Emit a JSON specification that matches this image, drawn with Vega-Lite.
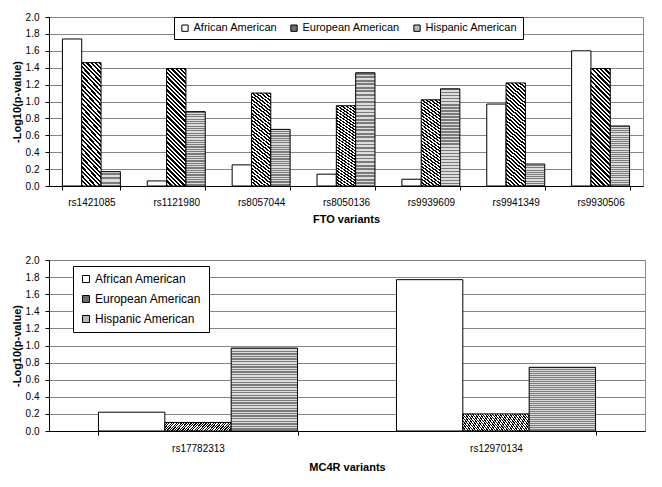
{
  "$schema": "https://vega.github.io/schema/vega-lite/v6.json",
  "background": "white",
  "padding": {"left": 10, "top": 11, "right": 10, "bottom": 5},
  "spacing": 29,
  "config": {
    "font": "Liberation Sans",
    "view": {"stroke": "#888888", "strokeWidth": 1},
    "axis": {
      "labelFont": "Liberation Sans", "labelFontSize": 10, "labelColor": "#000000",
      "titleFont": "Liberation Sans", "titleFontSize": 11, "titleFontWeight": "bold", "titleColor": "#000000",
      "domainColor": "#000000", "tickColor": "#000000", "gridColor": "#858585", "tickSize": 4
    },
    "legend": {"labelFont": "Liberation Sans", "labelColor": "#000000"}
  },
  "datasets": {
    "fto": [
      {"variant": "rs1421085", "group": "African American", "value": 1.74},
      {"variant": "rs1421085", "group": "European American", "value": 1.46},
      {"variant": "rs1421085", "group": "Hispanic American", "value": 0.17},
      {"variant": "rs1121980", "group": "African American", "value": 0.06},
      {"variant": "rs1121980", "group": "European American", "value": 1.39},
      {"variant": "rs1121980", "group": "Hispanic American", "value": 0.88},
      {"variant": "rs8057044", "group": "African American", "value": 0.25},
      {"variant": "rs8057044", "group": "European American", "value": 1.10},
      {"variant": "rs8057044", "group": "Hispanic American", "value": 0.67},
      {"variant": "rs8050136", "group": "African American", "value": 0.14},
      {"variant": "rs8050136", "group": "European American", "value": 0.95},
      {"variant": "rs8050136", "group": "Hispanic American", "value": 1.34},
      {"variant": "rs9939609", "group": "African American", "value": 0.08},
      {"variant": "rs9939609", "group": "European American", "value": 1.02},
      {"variant": "rs9939609", "group": "Hispanic American", "value": 1.15},
      {"variant": "rs9941349", "group": "African American", "value": 0.97},
      {"variant": "rs9941349", "group": "European American", "value": 1.22},
      {"variant": "rs9941349", "group": "Hispanic American", "value": 0.26},
      {"variant": "rs9930506", "group": "African American", "value": 1.60},
      {"variant": "rs9930506", "group": "European American", "value": 1.39},
      {"variant": "rs9930506", "group": "Hispanic American", "value": 0.71}
    ],
    "mc4r": [
      {"variant": "rs17782313", "group": "African American", "value": 0.22},
      {"variant": "rs17782313", "group": "European American", "value": 0.10},
      {"variant": "rs17782313", "group": "Hispanic American", "value": 0.97},
      {"variant": "rs12970134", "group": "African American", "value": 1.77},
      {"variant": "rs12970134", "group": "European American", "value": 0.20},
      {"variant": "rs12970134", "group": "Hispanic American", "value": 0.745}
    ]
  },
  "resolve": {
    "scale": {"x": "independent", "xOffset": "independent", "fill": "independent", "y": "independent"},
    "legend": {"fill": "independent"},
    "axis": {"x": "independent", "y": "independent"}
  },
  "vconcat": [
    {
      "width": 594,
      "height": 169,
      "data": {"name": "fto"},
      "mark": {"type": "bar", "stroke": "#000000", "strokeWidth": 1},
      "encoding": {
        "x": {
          "field": "variant", "type": "nominal",
          "sort": ["rs1421085", "rs1121980", "rs8057044", "rs8050136", "rs9939609", "rs9941349", "rs9930506"],
          "scale": {"paddingInner": 0.317, "paddingOuter": 0.158},
          "axis": {"title": "FTO variants", "labelAngle": 0, "tickBand": "extent", "grid": false, "labelPadding": 7, "titlePadding": 6}
        },
        "xOffset": {
          "field": "group", "type": "nominal",
          "sort": ["African American", "European American", "Hispanic American"],
          "scale": {"paddingInner": 0, "paddingOuter": 0}
        },
        "y": {
          "field": "value", "type": "quantitative",
          "scale": {"domain": [0, 2], "nice": false},
          "axis": {"title": "-Log10(p-value)", "values": [0, 0.2, 0.4, 0.6, 0.8, 1.0, 1.2, 1.4, 1.6, 1.8, 2.0], "format": ".1f", "grid": true, "labelPadding": 6, "titlePadding": 3}
        },
        "fill": {
          "field": "group", "type": "nominal",
          "scale": {"domain": ["African American", "European American", "Hispanic American"], "range": ["#ffffff", "#6e6e6e", "#b8b8b8"]},
          "legend": {
            "title": null, "orient": "none", "legendX": 125, "legendY": 0, "direction": "horizontal",
            "strokeColor": "#000000", "fillColor": "#ffffff", "padding": 5.5, "labelFontSize": 11,
            "symbolType": "square", "symbolSize": 40, "symbolStrokeColor": "#000000", "symbolStrokeWidth": 1,
            "columnPadding": 11, "labelOffset": 3
          },
          "condition": [
            {"test": "datum.group === 'European American'", "value": {"gradient": "linear", "x1": 0, "y1": 1, "x2": 0.19, "y2": -0.15, "stops": [
              {"offset":0,"color":"#000"},{"offset":0.015625,"color":"#000"},{"offset":0.015625,"color":"#fff"},{"offset":0.03125,"color":"#fff"},
              {"offset":0.03125,"color":"#000"},{"offset":0.046875,"color":"#000"},{"offset":0.046875,"color":"#fff"},{"offset":0.0625,"color":"#fff"},
              {"offset":0.0625,"color":"#000"},{"offset":0.078125,"color":"#000"},{"offset":0.078125,"color":"#fff"},{"offset":0.09375,"color":"#fff"},
              {"offset":0.09375,"color":"#000"},{"offset":0.109375,"color":"#000"},{"offset":0.109375,"color":"#fff"},{"offset":0.125,"color":"#fff"},
              {"offset":0.125,"color":"#000"},{"offset":0.140625,"color":"#000"},{"offset":0.140625,"color":"#fff"},{"offset":0.15625,"color":"#fff"},
              {"offset":0.15625,"color":"#000"},{"offset":0.171875,"color":"#000"},{"offset":0.171875,"color":"#fff"},{"offset":0.1875,"color":"#fff"},
              {"offset":0.1875,"color":"#000"},{"offset":0.203125,"color":"#000"},{"offset":0.203125,"color":"#fff"},{"offset":0.21875,"color":"#fff"},
              {"offset":0.21875,"color":"#000"},{"offset":0.234375,"color":"#000"},{"offset":0.234375,"color":"#fff"},{"offset":0.25,"color":"#fff"},
              {"offset":0.25,"color":"#000"},{"offset":0.265625,"color":"#000"},{"offset":0.265625,"color":"#fff"},{"offset":0.28125,"color":"#fff"},
              {"offset":0.28125,"color":"#000"},{"offset":0.296875,"color":"#000"},{"offset":0.296875,"color":"#fff"},{"offset":0.3125,"color":"#fff"},
              {"offset":0.3125,"color":"#000"},{"offset":0.328125,"color":"#000"},{"offset":0.328125,"color":"#fff"},{"offset":0.34375,"color":"#fff"},
              {"offset":0.34375,"color":"#000"},{"offset":0.359375,"color":"#000"},{"offset":0.359375,"color":"#fff"},{"offset":0.375,"color":"#fff"},
              {"offset":0.375,"color":"#000"},{"offset":0.390625,"color":"#000"},{"offset":0.390625,"color":"#fff"},{"offset":0.40625,"color":"#fff"},
              {"offset":0.40625,"color":"#000"},{"offset":0.421875,"color":"#000"},{"offset":0.421875,"color":"#fff"},{"offset":0.4375,"color":"#fff"},
              {"offset":0.4375,"color":"#000"},{"offset":0.453125,"color":"#000"},{"offset":0.453125,"color":"#fff"},{"offset":0.46875,"color":"#fff"},
              {"offset":0.46875,"color":"#000"},{"offset":0.484375,"color":"#000"},{"offset":0.484375,"color":"#fff"},{"offset":0.5,"color":"#fff"},
              {"offset":0.5,"color":"#000"},{"offset":0.515625,"color":"#000"},{"offset":0.515625,"color":"#fff"},{"offset":0.53125,"color":"#fff"},
              {"offset":0.53125,"color":"#000"},{"offset":0.546875,"color":"#000"},{"offset":0.546875,"color":"#fff"},{"offset":0.5625,"color":"#fff"},
              {"offset":0.5625,"color":"#000"},{"offset":0.578125,"color":"#000"},{"offset":0.578125,"color":"#fff"},{"offset":0.59375,"color":"#fff"},
              {"offset":0.59375,"color":"#000"},{"offset":0.609375,"color":"#000"},{"offset":0.609375,"color":"#fff"},{"offset":0.625,"color":"#fff"},
              {"offset":0.625,"color":"#000"},{"offset":0.640625,"color":"#000"},{"offset":0.640625,"color":"#fff"},{"offset":0.65625,"color":"#fff"},
              {"offset":0.65625,"color":"#000"},{"offset":0.671875,"color":"#000"},{"offset":0.671875,"color":"#fff"},{"offset":0.6875,"color":"#fff"},
              {"offset":0.6875,"color":"#000"},{"offset":0.703125,"color":"#000"},{"offset":0.703125,"color":"#fff"},{"offset":0.71875,"color":"#fff"},
              {"offset":0.71875,"color":"#000"},{"offset":0.734375,"color":"#000"},{"offset":0.734375,"color":"#fff"},{"offset":0.75,"color":"#fff"},
              {"offset":0.75,"color":"#000"},{"offset":0.765625,"color":"#000"},{"offset":0.765625,"color":"#fff"},{"offset":0.78125,"color":"#fff"},
              {"offset":0.78125,"color":"#000"},{"offset":0.796875,"color":"#000"},{"offset":0.796875,"color":"#fff"},{"offset":0.8125,"color":"#fff"},
              {"offset":0.8125,"color":"#000"},{"offset":0.828125,"color":"#000"},{"offset":0.828125,"color":"#fff"},{"offset":0.84375,"color":"#fff"},
              {"offset":0.84375,"color":"#000"},{"offset":0.859375,"color":"#000"},{"offset":0.859375,"color":"#fff"},{"offset":0.875,"color":"#fff"},
              {"offset":0.875,"color":"#000"},{"offset":0.890625,"color":"#000"},{"offset":0.890625,"color":"#fff"},{"offset":0.90625,"color":"#fff"},
              {"offset":0.90625,"color":"#000"},{"offset":0.921875,"color":"#000"},{"offset":0.921875,"color":"#fff"},{"offset":0.9375,"color":"#fff"},
              {"offset":0.9375,"color":"#000"},{"offset":0.953125,"color":"#000"},{"offset":0.953125,"color":"#fff"},{"offset":0.96875,"color":"#fff"},
              {"offset":0.96875,"color":"#000"},{"offset":0.984375,"color":"#000"},{"offset":0.984375,"color":"#fff"},{"offset":1,"color":"#fff"}
            ]}},
            {"test": "datum.group === 'Hispanic American'", "value": {"gradient": "linear", "x1": 0, "y1": 0, "x2": 0, "y2": 1, "stops": [
              {"offset":0,"color":"#7a7a7a"},{"offset":0.015625,"color":"#7a7a7a"},{"offset":0.015625,"color":"#dcdcdc"},{"offset":0.03125,"color":"#dcdcdc"},
              {"offset":0.03125,"color":"#7a7a7a"},{"offset":0.046875,"color":"#7a7a7a"},{"offset":0.046875,"color":"#dcdcdc"},{"offset":0.0625,"color":"#dcdcdc"},
              {"offset":0.0625,"color":"#7a7a7a"},{"offset":0.078125,"color":"#7a7a7a"},{"offset":0.078125,"color":"#dcdcdc"},{"offset":0.09375,"color":"#dcdcdc"},
              {"offset":0.09375,"color":"#7a7a7a"},{"offset":0.109375,"color":"#7a7a7a"},{"offset":0.109375,"color":"#dcdcdc"},{"offset":0.125,"color":"#dcdcdc"},
              {"offset":0.125,"color":"#7a7a7a"},{"offset":0.140625,"color":"#7a7a7a"},{"offset":0.140625,"color":"#dcdcdc"},{"offset":0.15625,"color":"#dcdcdc"},
              {"offset":0.15625,"color":"#7a7a7a"},{"offset":0.171875,"color":"#7a7a7a"},{"offset":0.171875,"color":"#dcdcdc"},{"offset":0.1875,"color":"#dcdcdc"},
              {"offset":0.1875,"color":"#7a7a7a"},{"offset":0.203125,"color":"#7a7a7a"},{"offset":0.203125,"color":"#dcdcdc"},{"offset":0.21875,"color":"#dcdcdc"},
              {"offset":0.21875,"color":"#7a7a7a"},{"offset":0.234375,"color":"#7a7a7a"},{"offset":0.234375,"color":"#dcdcdc"},{"offset":0.25,"color":"#dcdcdc"},
              {"offset":0.25,"color":"#7a7a7a"},{"offset":0.265625,"color":"#7a7a7a"},{"offset":0.265625,"color":"#dcdcdc"},{"offset":0.28125,"color":"#dcdcdc"},
              {"offset":0.28125,"color":"#7a7a7a"},{"offset":0.296875,"color":"#7a7a7a"},{"offset":0.296875,"color":"#dcdcdc"},{"offset":0.3125,"color":"#dcdcdc"},
              {"offset":0.3125,"color":"#7a7a7a"},{"offset":0.328125,"color":"#7a7a7a"},{"offset":0.328125,"color":"#dcdcdc"},{"offset":0.34375,"color":"#dcdcdc"},
              {"offset":0.34375,"color":"#7a7a7a"},{"offset":0.359375,"color":"#7a7a7a"},{"offset":0.359375,"color":"#dcdcdc"},{"offset":0.375,"color":"#dcdcdc"},
              {"offset":0.375,"color":"#7a7a7a"},{"offset":0.390625,"color":"#7a7a7a"},{"offset":0.390625,"color":"#dcdcdc"},{"offset":0.40625,"color":"#dcdcdc"},
              {"offset":0.40625,"color":"#7a7a7a"},{"offset":0.421875,"color":"#7a7a7a"},{"offset":0.421875,"color":"#dcdcdc"},{"offset":0.4375,"color":"#dcdcdc"},
              {"offset":0.4375,"color":"#7a7a7a"},{"offset":0.453125,"color":"#7a7a7a"},{"offset":0.453125,"color":"#dcdcdc"},{"offset":0.46875,"color":"#dcdcdc"},
              {"offset":0.46875,"color":"#7a7a7a"},{"offset":0.484375,"color":"#7a7a7a"},{"offset":0.484375,"color":"#dcdcdc"},{"offset":0.5,"color":"#dcdcdc"},
              {"offset":0.5,"color":"#7a7a7a"},{"offset":0.515625,"color":"#7a7a7a"},{"offset":0.515625,"color":"#dcdcdc"},{"offset":0.53125,"color":"#dcdcdc"},
              {"offset":0.53125,"color":"#7a7a7a"},{"offset":0.546875,"color":"#7a7a7a"},{"offset":0.546875,"color":"#dcdcdc"},{"offset":0.5625,"color":"#dcdcdc"},
              {"offset":0.5625,"color":"#7a7a7a"},{"offset":0.578125,"color":"#7a7a7a"},{"offset":0.578125,"color":"#dcdcdc"},{"offset":0.59375,"color":"#dcdcdc"},
              {"offset":0.59375,"color":"#7a7a7a"},{"offset":0.609375,"color":"#7a7a7a"},{"offset":0.609375,"color":"#dcdcdc"},{"offset":0.625,"color":"#dcdcdc"},
              {"offset":0.625,"color":"#7a7a7a"},{"offset":0.640625,"color":"#7a7a7a"},{"offset":0.640625,"color":"#dcdcdc"},{"offset":0.65625,"color":"#dcdcdc"},
              {"offset":0.65625,"color":"#7a7a7a"},{"offset":0.671875,"color":"#7a7a7a"},{"offset":0.671875,"color":"#dcdcdc"},{"offset":0.6875,"color":"#dcdcdc"},
              {"offset":0.6875,"color":"#7a7a7a"},{"offset":0.703125,"color":"#7a7a7a"},{"offset":0.703125,"color":"#dcdcdc"},{"offset":0.71875,"color":"#dcdcdc"},
              {"offset":0.71875,"color":"#7a7a7a"},{"offset":0.734375,"color":"#7a7a7a"},{"offset":0.734375,"color":"#dcdcdc"},{"offset":0.75,"color":"#dcdcdc"},
              {"offset":0.75,"color":"#7a7a7a"},{"offset":0.765625,"color":"#7a7a7a"},{"offset":0.765625,"color":"#dcdcdc"},{"offset":0.78125,"color":"#dcdcdc"},
              {"offset":0.78125,"color":"#7a7a7a"},{"offset":0.796875,"color":"#7a7a7a"},{"offset":0.796875,"color":"#dcdcdc"},{"offset":0.8125,"color":"#dcdcdc"},
              {"offset":0.8125,"color":"#7a7a7a"},{"offset":0.828125,"color":"#7a7a7a"},{"offset":0.828125,"color":"#dcdcdc"},{"offset":0.84375,"color":"#dcdcdc"},
              {"offset":0.84375,"color":"#7a7a7a"},{"offset":0.859375,"color":"#7a7a7a"},{"offset":0.859375,"color":"#dcdcdc"},{"offset":0.875,"color":"#dcdcdc"},
              {"offset":0.875,"color":"#7a7a7a"},{"offset":0.890625,"color":"#7a7a7a"},{"offset":0.890625,"color":"#dcdcdc"},{"offset":0.90625,"color":"#dcdcdc"},
              {"offset":0.90625,"color":"#7a7a7a"},{"offset":0.921875,"color":"#7a7a7a"},{"offset":0.921875,"color":"#dcdcdc"},{"offset":0.9375,"color":"#dcdcdc"},
              {"offset":0.9375,"color":"#7a7a7a"},{"offset":0.953125,"color":"#7a7a7a"},{"offset":0.953125,"color":"#dcdcdc"},{"offset":0.96875,"color":"#dcdcdc"},
              {"offset":0.96875,"color":"#7a7a7a"},{"offset":0.984375,"color":"#7a7a7a"},{"offset":0.984375,"color":"#dcdcdc"},{"offset":1,"color":"#dcdcdc"}
            ]}}
          ]
        }
      }
    },
    {
      "width": 596,
      "height": 171,
      "data": {"name": "mc4r"},
      "mark": {"type": "bar", "stroke": "#000000", "strokeWidth": 1},
      "encoding": {
        "x": {
          "field": "variant", "type": "nominal",
          "sort": ["rs17782313", "rs12970134"],
          "scale": {"paddingInner": 0.332, "paddingOuter": 0.166},
          "axis": {"title": "MC4R variants", "labelAngle": 0, "tickBand": "extent", "grid": false, "labelPadding": 8, "titlePadding": 8}
        },
        "xOffset": {
          "field": "group", "type": "nominal",
          "sort": ["African American", "European American", "Hispanic American"],
          "scale": {"paddingInner": 0, "paddingOuter": 0}
        },
        "y": {
          "field": "value", "type": "quantitative",
          "scale": {"domain": [0, 2], "nice": false},
          "axis": {"title": "-Log10(p-value)", "values": [0, 0.2, 0.4, 0.6, 0.8, 1.0, 1.2, 1.4, 1.6, 1.8, 2.0], "format": ".1f", "grid": true, "labelPadding": 6, "titlePadding": 3}
        },
        "fill": {
          "field": "group", "type": "nominal",
          "scale": {"domain": ["African American", "European American", "Hispanic American"], "range": ["#ffffff", "#6e6e6e", "#b8b8b8"]},
          "legend": {
            "title": null, "orient": "none", "legendX": 24, "legendY": 6, "direction": "vertical",
            "strokeColor": "#000000", "fillColor": "#ffffff", "padding": 7, "labelFontSize": 12,
            "symbolType": "square", "symbolSize": 49, "symbolStrokeColor": "#000000", "symbolStrokeWidth": 1,
            "rowPadding": 8, "labelOffset": 3
          },
          "condition": [
            {"test": "datum.group === 'European American'", "value": {"gradient": "linear", "x1": 0, "y1": 1, "x2": 1.15, "y2": 0.77, "stops": [
              {"offset":0,"color":"#000"},{"offset":0.015625,"color":"#000"},{"offset":0.015625,"color":"#fff"},{"offset":0.03125,"color":"#fff"},
              {"offset":0.03125,"color":"#000"},{"offset":0.046875,"color":"#000"},{"offset":0.046875,"color":"#fff"},{"offset":0.0625,"color":"#fff"},
              {"offset":0.0625,"color":"#000"},{"offset":0.078125,"color":"#000"},{"offset":0.078125,"color":"#fff"},{"offset":0.09375,"color":"#fff"},
              {"offset":0.09375,"color":"#000"},{"offset":0.109375,"color":"#000"},{"offset":0.109375,"color":"#fff"},{"offset":0.125,"color":"#fff"},
              {"offset":0.125,"color":"#000"},{"offset":0.140625,"color":"#000"},{"offset":0.140625,"color":"#fff"},{"offset":0.15625,"color":"#fff"},
              {"offset":0.15625,"color":"#000"},{"offset":0.171875,"color":"#000"},{"offset":0.171875,"color":"#fff"},{"offset":0.1875,"color":"#fff"},
              {"offset":0.1875,"color":"#000"},{"offset":0.203125,"color":"#000"},{"offset":0.203125,"color":"#fff"},{"offset":0.21875,"color":"#fff"},
              {"offset":0.21875,"color":"#000"},{"offset":0.234375,"color":"#000"},{"offset":0.234375,"color":"#fff"},{"offset":0.25,"color":"#fff"},
              {"offset":0.25,"color":"#000"},{"offset":0.265625,"color":"#000"},{"offset":0.265625,"color":"#fff"},{"offset":0.28125,"color":"#fff"},
              {"offset":0.28125,"color":"#000"},{"offset":0.296875,"color":"#000"},{"offset":0.296875,"color":"#fff"},{"offset":0.3125,"color":"#fff"},
              {"offset":0.3125,"color":"#000"},{"offset":0.328125,"color":"#000"},{"offset":0.328125,"color":"#fff"},{"offset":0.34375,"color":"#fff"},
              {"offset":0.34375,"color":"#000"},{"offset":0.359375,"color":"#000"},{"offset":0.359375,"color":"#fff"},{"offset":0.375,"color":"#fff"},
              {"offset":0.375,"color":"#000"},{"offset":0.390625,"color":"#000"},{"offset":0.390625,"color":"#fff"},{"offset":0.40625,"color":"#fff"},
              {"offset":0.40625,"color":"#000"},{"offset":0.421875,"color":"#000"},{"offset":0.421875,"color":"#fff"},{"offset":0.4375,"color":"#fff"},
              {"offset":0.4375,"color":"#000"},{"offset":0.453125,"color":"#000"},{"offset":0.453125,"color":"#fff"},{"offset":0.46875,"color":"#fff"},
              {"offset":0.46875,"color":"#000"},{"offset":0.484375,"color":"#000"},{"offset":0.484375,"color":"#fff"},{"offset":0.5,"color":"#fff"},
              {"offset":0.5,"color":"#000"},{"offset":0.515625,"color":"#000"},{"offset":0.515625,"color":"#fff"},{"offset":0.53125,"color":"#fff"},
              {"offset":0.53125,"color":"#000"},{"offset":0.546875,"color":"#000"},{"offset":0.546875,"color":"#fff"},{"offset":0.5625,"color":"#fff"},
              {"offset":0.5625,"color":"#000"},{"offset":0.578125,"color":"#000"},{"offset":0.578125,"color":"#fff"},{"offset":0.59375,"color":"#fff"},
              {"offset":0.59375,"color":"#000"},{"offset":0.609375,"color":"#000"},{"offset":0.609375,"color":"#fff"},{"offset":0.625,"color":"#fff"},
              {"offset":0.625,"color":"#000"},{"offset":0.640625,"color":"#000"},{"offset":0.640625,"color":"#fff"},{"offset":0.65625,"color":"#fff"},
              {"offset":0.65625,"color":"#000"},{"offset":0.671875,"color":"#000"},{"offset":0.671875,"color":"#fff"},{"offset":0.6875,"color":"#fff"},
              {"offset":0.6875,"color":"#000"},{"offset":0.703125,"color":"#000"},{"offset":0.703125,"color":"#fff"},{"offset":0.71875,"color":"#fff"},
              {"offset":0.71875,"color":"#000"},{"offset":0.734375,"color":"#000"},{"offset":0.734375,"color":"#fff"},{"offset":0.75,"color":"#fff"},
              {"offset":0.75,"color":"#000"},{"offset":0.765625,"color":"#000"},{"offset":0.765625,"color":"#fff"},{"offset":0.78125,"color":"#fff"},
              {"offset":0.78125,"color":"#000"},{"offset":0.796875,"color":"#000"},{"offset":0.796875,"color":"#fff"},{"offset":0.8125,"color":"#fff"},
              {"offset":0.8125,"color":"#000"},{"offset":0.828125,"color":"#000"},{"offset":0.828125,"color":"#fff"},{"offset":0.84375,"color":"#fff"},
              {"offset":0.84375,"color":"#000"},{"offset":0.859375,"color":"#000"},{"offset":0.859375,"color":"#fff"},{"offset":0.875,"color":"#fff"},
              {"offset":0.875,"color":"#000"},{"offset":0.890625,"color":"#000"},{"offset":0.890625,"color":"#fff"},{"offset":0.90625,"color":"#fff"},
              {"offset":0.90625,"color":"#000"},{"offset":0.921875,"color":"#000"},{"offset":0.921875,"color":"#fff"},{"offset":0.9375,"color":"#fff"},
              {"offset":0.9375,"color":"#000"},{"offset":0.953125,"color":"#000"},{"offset":0.953125,"color":"#fff"},{"offset":0.96875,"color":"#fff"},
              {"offset":0.96875,"color":"#000"},{"offset":0.984375,"color":"#000"},{"offset":0.984375,"color":"#fff"},{"offset":1,"color":"#fff"}
            ]}},
            {"test": "datum.group === 'Hispanic American'", "value": {"gradient": "linear", "x1": 0, "y1": 0, "x2": 0, "y2": 1, "stops": [
              {"offset":0,"color":"#7a7a7a"},{"offset":0.015625,"color":"#7a7a7a"},{"offset":0.015625,"color":"#dcdcdc"},{"offset":0.03125,"color":"#dcdcdc"},
              {"offset":0.03125,"color":"#7a7a7a"},{"offset":0.046875,"color":"#7a7a7a"},{"offset":0.046875,"color":"#dcdcdc"},{"offset":0.0625,"color":"#dcdcdc"},
              {"offset":0.0625,"color":"#7a7a7a"},{"offset":0.078125,"color":"#7a7a7a"},{"offset":0.078125,"color":"#dcdcdc"},{"offset":0.09375,"color":"#dcdcdc"},
              {"offset":0.09375,"color":"#7a7a7a"},{"offset":0.109375,"color":"#7a7a7a"},{"offset":0.109375,"color":"#dcdcdc"},{"offset":0.125,"color":"#dcdcdc"},
              {"offset":0.125,"color":"#7a7a7a"},{"offset":0.140625,"color":"#7a7a7a"},{"offset":0.140625,"color":"#dcdcdc"},{"offset":0.15625,"color":"#dcdcdc"},
              {"offset":0.15625,"color":"#7a7a7a"},{"offset":0.171875,"color":"#7a7a7a"},{"offset":0.171875,"color":"#dcdcdc"},{"offset":0.1875,"color":"#dcdcdc"},
              {"offset":0.1875,"color":"#7a7a7a"},{"offset":0.203125,"color":"#7a7a7a"},{"offset":0.203125,"color":"#dcdcdc"},{"offset":0.21875,"color":"#dcdcdc"},
              {"offset":0.21875,"color":"#7a7a7a"},{"offset":0.234375,"color":"#7a7a7a"},{"offset":0.234375,"color":"#dcdcdc"},{"offset":0.25,"color":"#dcdcdc"},
              {"offset":0.25,"color":"#7a7a7a"},{"offset":0.265625,"color":"#7a7a7a"},{"offset":0.265625,"color":"#dcdcdc"},{"offset":0.28125,"color":"#dcdcdc"},
              {"offset":0.28125,"color":"#7a7a7a"},{"offset":0.296875,"color":"#7a7a7a"},{"offset":0.296875,"color":"#dcdcdc"},{"offset":0.3125,"color":"#dcdcdc"},
              {"offset":0.3125,"color":"#7a7a7a"},{"offset":0.328125,"color":"#7a7a7a"},{"offset":0.328125,"color":"#dcdcdc"},{"offset":0.34375,"color":"#dcdcdc"},
              {"offset":0.34375,"color":"#7a7a7a"},{"offset":0.359375,"color":"#7a7a7a"},{"offset":0.359375,"color":"#dcdcdc"},{"offset":0.375,"color":"#dcdcdc"},
              {"offset":0.375,"color":"#7a7a7a"},{"offset":0.390625,"color":"#7a7a7a"},{"offset":0.390625,"color":"#dcdcdc"},{"offset":0.40625,"color":"#dcdcdc"},
              {"offset":0.40625,"color":"#7a7a7a"},{"offset":0.421875,"color":"#7a7a7a"},{"offset":0.421875,"color":"#dcdcdc"},{"offset":0.4375,"color":"#dcdcdc"},
              {"offset":0.4375,"color":"#7a7a7a"},{"offset":0.453125,"color":"#7a7a7a"},{"offset":0.453125,"color":"#dcdcdc"},{"offset":0.46875,"color":"#dcdcdc"},
              {"offset":0.46875,"color":"#7a7a7a"},{"offset":0.484375,"color":"#7a7a7a"},{"offset":0.484375,"color":"#dcdcdc"},{"offset":0.5,"color":"#dcdcdc"},
              {"offset":0.5,"color":"#7a7a7a"},{"offset":0.515625,"color":"#7a7a7a"},{"offset":0.515625,"color":"#dcdcdc"},{"offset":0.53125,"color":"#dcdcdc"},
              {"offset":0.53125,"color":"#7a7a7a"},{"offset":0.546875,"color":"#7a7a7a"},{"offset":0.546875,"color":"#dcdcdc"},{"offset":0.5625,"color":"#dcdcdc"},
              {"offset":0.5625,"color":"#7a7a7a"},{"offset":0.578125,"color":"#7a7a7a"},{"offset":0.578125,"color":"#dcdcdc"},{"offset":0.59375,"color":"#dcdcdc"},
              {"offset":0.59375,"color":"#7a7a7a"},{"offset":0.609375,"color":"#7a7a7a"},{"offset":0.609375,"color":"#dcdcdc"},{"offset":0.625,"color":"#dcdcdc"},
              {"offset":0.625,"color":"#7a7a7a"},{"offset":0.640625,"color":"#7a7a7a"},{"offset":0.640625,"color":"#dcdcdc"},{"offset":0.65625,"color":"#dcdcdc"},
              {"offset":0.65625,"color":"#7a7a7a"},{"offset":0.671875,"color":"#7a7a7a"},{"offset":0.671875,"color":"#dcdcdc"},{"offset":0.6875,"color":"#dcdcdc"},
              {"offset":0.6875,"color":"#7a7a7a"},{"offset":0.703125,"color":"#7a7a7a"},{"offset":0.703125,"color":"#dcdcdc"},{"offset":0.71875,"color":"#dcdcdc"},
              {"offset":0.71875,"color":"#7a7a7a"},{"offset":0.734375,"color":"#7a7a7a"},{"offset":0.734375,"color":"#dcdcdc"},{"offset":0.75,"color":"#dcdcdc"},
              {"offset":0.75,"color":"#7a7a7a"},{"offset":0.765625,"color":"#7a7a7a"},{"offset":0.765625,"color":"#dcdcdc"},{"offset":0.78125,"color":"#dcdcdc"},
              {"offset":0.78125,"color":"#7a7a7a"},{"offset":0.796875,"color":"#7a7a7a"},{"offset":0.796875,"color":"#dcdcdc"},{"offset":0.8125,"color":"#dcdcdc"},
              {"offset":0.8125,"color":"#7a7a7a"},{"offset":0.828125,"color":"#7a7a7a"},{"offset":0.828125,"color":"#dcdcdc"},{"offset":0.84375,"color":"#dcdcdc"},
              {"offset":0.84375,"color":"#7a7a7a"},{"offset":0.859375,"color":"#7a7a7a"},{"offset":0.859375,"color":"#dcdcdc"},{"offset":0.875,"color":"#dcdcdc"},
              {"offset":0.875,"color":"#7a7a7a"},{"offset":0.890625,"color":"#7a7a7a"},{"offset":0.890625,"color":"#dcdcdc"},{"offset":0.90625,"color":"#dcdcdc"},
              {"offset":0.90625,"color":"#7a7a7a"},{"offset":0.921875,"color":"#7a7a7a"},{"offset":0.921875,"color":"#dcdcdc"},{"offset":0.9375,"color":"#dcdcdc"},
              {"offset":0.9375,"color":"#7a7a7a"},{"offset":0.953125,"color":"#7a7a7a"},{"offset":0.953125,"color":"#dcdcdc"},{"offset":0.96875,"color":"#dcdcdc"},
              {"offset":0.96875,"color":"#7a7a7a"},{"offset":0.984375,"color":"#7a7a7a"},{"offset":0.984375,"color":"#dcdcdc"},{"offset":1,"color":"#dcdcdc"}
            ]}}
          ]
        }
      }
    }
  ]
}
